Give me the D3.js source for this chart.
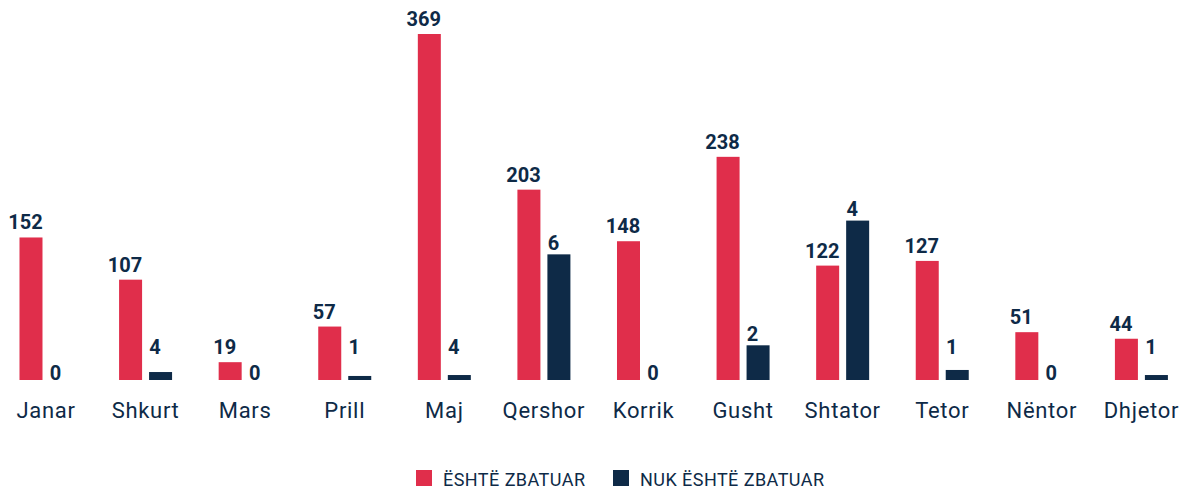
<!DOCTYPE html>
<html>
<head>
<meta charset="utf-8">
<script src="https://cdn.jsdelivr.net/npm/d3@7"></script>
<style>
  body { margin: 0; background: #fff; }
  text { font-family: Roboto, "Open Sans", sans-serif; }
</style>
</head>
<body>
<script>
const months = ['Janar', 'Shkurt', 'Mars', 'Prill', 'Maj', 'Qershor', 'Korrik', 'Gusht', 'Shtator', 'Tetor', 'Nëntor', 'Dhjetor'];
const series = ['ËSHTË ZBATUAR', 'NUK ËSHTË ZBATUAR'];
const implemented = [152, 107, 19, 57, 369, 203, 148, 238, 122, 127, 51, 44];
// dark bar heights as drawn in the picture (same scale as the red bars)
const notImplementedBars = [0, 8.5, 0, 4.3, 5.3, 134, 0, 37, 170, 10.7, 0, 5.3];
// labels shown above the dark bars
const notImplementedLabels = [0, 4, 0, 1, 4, 6, 0, 2, 4, 1, 0, 1];

const width = 1195, height = 490;
const colors = ['#e02e4b', '#0e2a47'];
const textColor = '#0e2a47';

const svg = d3.select('body').append('svg')
  .attr('width', width)
  .attr('height', height);

const x0 = d3.scaleBand()
  .domain(months)
  .range([-3.8, 1191.2])
  .padding(0);

const x1 = d3.scaleBand()
  .domain([0, 1])
  .range([0, 53])
  .paddingInner(0.233)
  .paddingOuter(0);

const y = d3.scaleLinear()
  .domain([0, 369])
  .range([380, 34]);

const rows = months.map((m, i) => ({
  month: m,
  bars: [
    { s: 0, v: implemented[i], label: implemented[i] },
    { s: 1, v: notImplementedBars[i], label: notImplementedLabels[i] }
  ]
}));

const groups = svg.append('g').selectAll('g')
  .data(rows)
  .join('g')
  .attr('transform', d => `translate(${x0(d.month) + x0.bandwidth() / 2 - 26.5},0)`);

groups.selectAll('rect')
  .data(d => d.bars)
  .join('rect')
  .attr('x', d => x1(d.s))
  .attr('y', d => y(d.v))
  .attr('width', x1.bandwidth())
  .attr('height', d => y(0) - y(d.v))
  .attr('fill', d => colors[d.s]);

groups.selectAll('text.val')
  .data(d => d.bars)
  .join('text')
  .attr('class', 'val')
  .attr('x', d => x1(d.s) + x1.bandwidth() / 2 - 5.5)
  .attr('y', d => {
    if (d.v === 0) return y(0);
    if (d.s === 0) return y(d.v) - 8;
    return Math.min(y(d.v) - 4.5, 354);
  })
  .attr('text-anchor', 'middle')
  .attr('fill', textColor)
  .style('font-size', '20px')
  .style('font-weight', 700)
  .text(d => d.label);

// month axis
const xAxis = svg.append('g')
  .attr('transform', 'translate(0,380)')
  .call(d3.axisBottom(x0).tickSize(0));
xAxis.select('.domain').remove();
xAxis.selectAll('text')
  .attr('dy', 0)
  .attr('y', 38)
  .attr('fill', textColor)
  .style('font-size', '22px')
  .style('letter-spacing', '0.7px')
  .style('font-family', 'Roboto, sans-serif');

// legend
const legendX = [416, 613];
const legend = svg.append('g').selectAll('g')
  .data(series)
  .join('g')
  .attr('transform', (d, i) => `translate(${legendX[i]},470)`);
legend.append('rect')
  .attr('width', 16)
  .attr('height', 16)
  .attr('fill', (d, i) => colors[i]);
legend.append('text')
  .attr('x', 27)
  .attr('y', 16)
  .attr('fill', textColor)
  .style('font-size', '18px')
  .style('letter-spacing', '0.45px')
  .text(d => d);
</script>
</body>
</html>
